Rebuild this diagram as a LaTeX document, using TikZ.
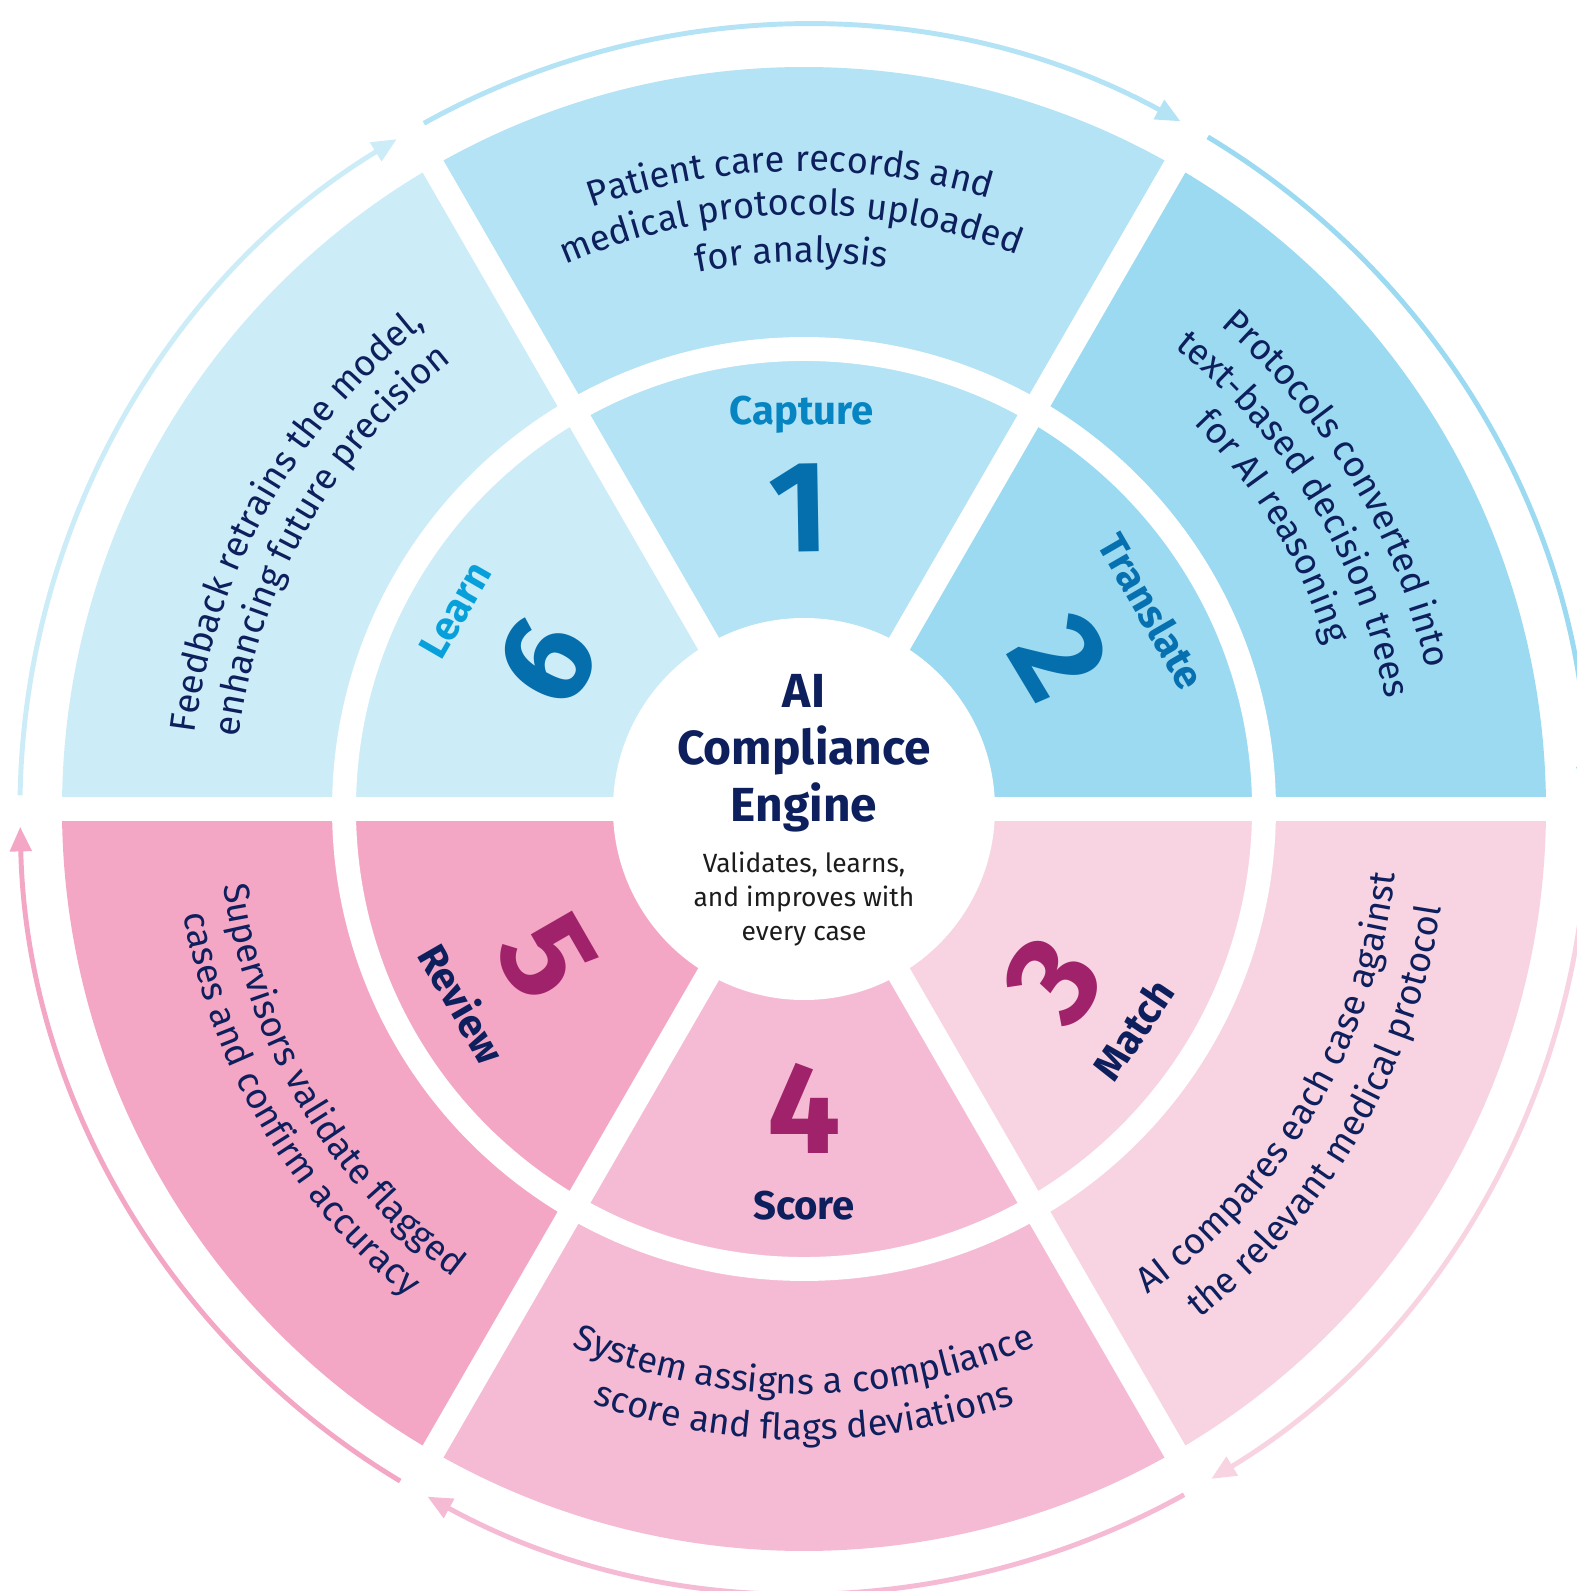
\documentclass[tikz,border=0pt]{standalone}
\usepackage{fontspec}
\setmainfont{Fira Sans}
\usetikzlibrary{arrows.meta,decorations.text,positioning}

\definecolor{CaptureFill}{HTML}{B3E3F4}
\definecolor{TranslateFill}{HTML}{9BDAF1}
\definecolor{LearnFill}{HTML}{CCECF8}
\definecolor{MatchFill}{HTML}{F8D4E2}
\definecolor{ScoreFill}{HTML}{F6BBD4}
\definecolor{ReviewFill}{HTML}{F4A7C5}
\definecolor{NavyText}{HTML}{0D1F5C}
\definecolor{NoteText}{HTML}{1C1C1C}
\definecolor{CaptureBlue}{HTML}{0784C2}
\definecolor{TranslateBlue}{HTML}{0670B0}
\definecolor{LearnBlue}{HTML}{08A0DA}
\definecolor{BlueNum}{HTML}{056EAD}
\definecolor{PinkNum}{HTML}{A0226A}

\newcommand{\ringfont}{\fontsize{10.3}{12}\selectfont\color{NavyText}}
\newcommand{\labelfont}{\fontsize{11.4}{13}\bfseries\selectfont}
\newcommand{\numfont}{\fontsize{37}{37}\bfseries\selectfont}
\newcommand{\titlefont}{\fontsize{13.6}{16.3}\bfseries\selectfont}
\newcommand{\notefont}{\fontsize{7.5}{9.7}\selectfont}

\begin{document}
\begin{tikzpicture}[x=0.01cm, y=0.01cm]
	\tikzstyle{Gap}		= [white, line width=6.8pt]
	\tikzstyle{Flow}	= [line width=1.4pt, -{Triangle[length=7pt, width=6pt]}]
	\tikzstyle{StepName}	= [font=\labelfont, inner sep=0pt, anchor=mid]
	\tikzstyle{StepNum}	= [font=\numfont, inner sep=0pt]
	\tikzstyle{RingText}	= [decorate, decoration={text along path, text align=center}]

	\path[use as bounding box] (-804,-782) rectangle (773,809);
	\clip (-804,-782) rectangle (773,809);

	% six slices
	\fill[TranslateFill] (0,0) -- (0:742) arc[start angle=0, end angle=60, radius=742] -- cycle;
	\fill[CaptureFill] (0,0) -- (60:742) arc[start angle=60, end angle=120, radius=742] -- cycle;
	\fill[LearnFill] (0,0) -- (120:742) arc[start angle=120, end angle=180, radius=742] -- cycle;
	\fill[ReviewFill] (0,0) -- (180:742) arc[start angle=180, end angle=240, radius=742] -- cycle;
	\fill[ScoreFill] (0,0) -- (240:742) arc[start angle=240, end angle=300, radius=742] -- cycle;
	\fill[MatchFill] (0,0) -- (300:742) arc[start angle=300, end angle=360, radius=742] -- cycle;

	% white gaps
	\draw[Gap] (0:750) -- (180:750);
	\draw[Gap] (60:750) -- (240:750);
	\draw[Gap] (120:750) -- (300:750);
	\draw[Gap] (0,0) circle[radius=460];
	\fill[white] (0,0) circle[radius=191];

	% cycle arrows
	\draw[Flow, CaptureFill] (119:784) arc[start angle=119, end angle=61.3, radius=784];
	\draw[Flow, TranslateFill] (59:784) arc[start angle=59, end angle=1.3, radius=784];
	\draw[Flow, MatchFill] (-1:784) arc[start angle=-1, end angle=-58.7, radius=784];
	\draw[Flow, ScoreFill] (299:784) arc[start angle=299, end angle=241.3, radius=784];
	\draw[Flow, ReviewFill] (239:784) arc[start angle=239, end angle=181.3, radius=784];
	\draw[Flow, LearnFill] (179:784) arc[start angle=179, end angle=121.3, radius=784];

	% outer ring texts
	\path[RingText, decoration={text={|\ringfont|Patient care records and}}] (126.3:638) arc[start angle=126.3, end angle=56.3, radius=638];
	\path[RingText, decoration={text={|\ringfont|medical protocols uploaded}}] (126.3:594) arc[start angle=126.3, end angle=56.3, radius=594];
	\path[RingText, decoration={text={|\ringfont|for analysis}}] (126.3:547) arc[start angle=126.3, end angle=56.3, radius=547];

	\path[RingText, decoration={text={|\ringfont|Protocols converted into}}] (66:638) arc[start angle=66, end angle=-4, radius=638];
	\path[RingText, decoration={text={|\ringfont|text-based decision trees}}] (66:592) arc[start angle=66, end angle=-4, radius=592];
	\path[RingText, decoration={text={|\ringfont|for AI reasoning}}] (66:548) arc[start angle=66, end angle=-4, radius=548];

	\path[RingText, decoration={text={|\ringfont|AI compares each case against}}] (-65.5:595) arc[start angle=-65.5, end angle=4.5, radius=595];
	\path[RingText, decoration={text={|\ringfont|the relevant medical protocol}}] (-65.5:645) arc[start angle=-65.5, end angle=4.5, radius=645];

	\path[RingText, decoration={text={|\ringfont|System assigns a compliance}}] (235:585) arc[start angle=235, end angle=305, radius=585];
	\path[RingText, decoration={text={|\ringfont|score and flags deviations}}] (235:631) arc[start angle=235, end angle=305, radius=631];

	\path[RingText, decoration={text={|\ringfont|Supervisors validate flagged}}] (175.3:585) arc[start angle=175.3, end angle=245.3, radius=585];
	\path[RingText, decoration={text={|\ringfont|cases and confirm accuracy}}] (175.3:629) arc[start angle=175.3, end angle=245.3, radius=629];

	\path[RingText, decoration={text={|\ringfont|Feedback retrains the model,}}] (185.5:614) arc[start angle=185.5, end angle=115.5, radius=614];
	\path[RingText, decoration={text={|\ringfont|enhancing future precision}}] (185.5:570) arc[start angle=185.5, end angle=115.5, radius=570];

	% step names and numbers
	\node (captureName) [StepName, text=CaptureBlue] at (90.3:394) {Capture};
	\node (captureNum) [StepNum, text=BlueNum, rotate=1] at (91:301) {1};
	\node (translateName) [StepName, text=TranslateBlue, rotate=-60] at (29.6:395) {Translate};
	\node (translateNum) [StepNum, text=BlueNum, rotate=-59] at (30.7:298) {2};
	\node (matchNum) [StepNum, text=PinkNum, rotate=56] at (-34.4:303) {3};
	\node (matchName) [StepName, text=NavyText, rotate=56] at (-33.8:402) {Match};
	\node (scoreNum) [StepNum, text=PinkNum] at (270:299) {4};
	\node (scoreName) [StepName, text=NavyText] at (270:401) {Score};
	\node (reviewNum) [StepNum, text=PinkNum, rotate=-60] at (210:297) {5};
	\node (reviewName) [StepName, text=NavyText, rotate=-60] at (209.7:399) {Review};
	\node (learnNum) [StepNum, text=BlueNum, rotate=60] at (150:297) {6};
	\node (learnName) [StepName, text=LearnBlue, rotate=60] at (150.3:397) {Learn};

	% centre
	\node (engine) [font=\titlefont, text=NavyText, align=center, inner sep=0pt, anchor=base] at (0,-13) {AI\\Compliance\\Engine};
	\node (engineNote) [font=\notefont, text=NoteText, align=center, inner sep=0pt, below=5pt of engine] {Validates, learns,\\and improves with\\every case};
\end{tikzpicture}
\end{document}
